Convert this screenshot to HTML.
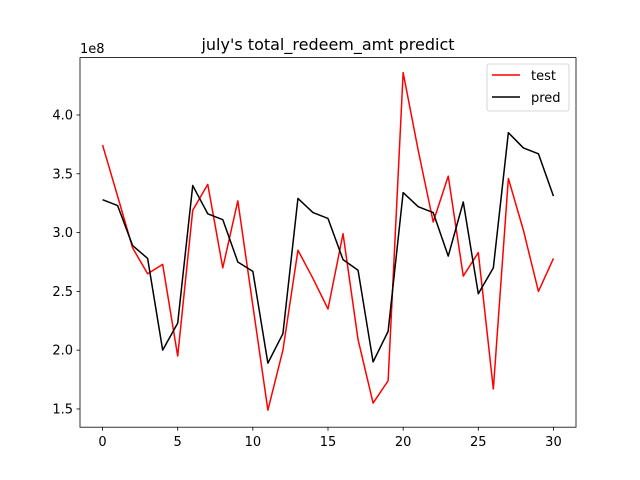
<!DOCTYPE html>
<html><head><meta charset="utf-8"><style>
html,body{margin:0;padding:0;background:#fff;}
svg{display:block;font-family:"DejaVu Sans","Liberation Sans",sans-serif;}
</style></head><body>
<svg id="chart" width="640" height="480" viewBox="0 0 640 480"></svg>
<script>
const days = [0,1,2,3,4,5,6,7,8,9,10,11,12,13,14,15,16,17,18,19,20,21,22,23,24,25,26,27,28,29,30];
const testValues = [3.745,3.31,2.87,2.65,2.73,1.95,3.19,3.41,2.70,3.27,2.38,1.49,2.0,2.85,2.61,2.35,2.99,2.09,1.55,1.74,4.36,3.70,3.09,3.48,2.63,2.83,1.67,3.46,3.02,2.50,2.78];
const predValues = [3.28,3.23,2.89,2.78,2.0,2.23,3.40,3.16,3.11,2.75,2.67,1.89,2.14,3.29,3.17,3.12,2.77,2.68,1.90,2.16,3.34,3.22,3.17,2.80,3.26,2.48,2.70,3.85,3.72,3.67,3.31];
const xTicks = [0,5,10,15,20,25,30];
const yTicks = [1.5,2.0,2.5,3.0,3.5,4.0];
const yTickLabels = ["1.5","2.0","2.5","3.0","3.5","4.0"];

const L=80,R=576,T=57.6,B=427.2;
const xMin=-1.5,xMax=31.5,yMin=1.345,yMax=4.488;
const xs=v=>L+(v-xMin)/(xMax-xMin)*(R-L);
const ys=v=>B-(v-yMin)/(yMax-yMin)*(B-T);
const svg=document.getElementById('chart');
const NS='http://www.w3.org/2000/svg';
function mk(tag,attrs,parent){const e=document.createElementNS(NS,tag);for(const k in attrs)e.setAttribute(k,attrs[k]);(parent||svg).appendChild(e);return e;}

const title=mk('text',{x:328,y:50,'text-anchor':'middle','font-size':16});
title.textContent="july's total_redeem_amt predict";



const mult=mk('text',{x:80,y:53,'font-size':13});
mult.textContent="1e8";



xTicks.forEach(t=>{
  const x=xs(t);
  mk('line',{x1:x,x2:x,y1:B,y2:B+3.5,stroke:'#000','stroke-width':0.8});
  const tx=mk('text',{x:x,y:B+19,'text-anchor':'middle','font-size':13});
  tx.textContent=t;
  
  
});
yTicks.forEach((t,i)=>{
  const y=ys(t);
  mk('line',{x1:L-3.5,x2:L,y1:y,y2:y,stroke:'#000','stroke-width':0.8});
  const tx=mk('text',{x:L-7,y:y+4.5,'text-anchor':'end','font-size':13});
  tx.textContent=yTickLabels[i];
  
  
});

function series(vals,color,name){
  const p=mk('polyline',{points:vals.map((v,i)=>xs(days[i])+','+ys(v)).join(' '),fill:'none',stroke:color,'stroke-width':1.5,'stroke-linejoin':'round'});
  
  
}
series(testValues,'#ff0000','test-line');
series(predValues,'#000000','pred-line');

const frame=mk('rect',{x:L,y:T,width:R-L,height:B-T,fill:'none',stroke:'#000','stroke-width':0.8});



const lg=mk('g',{});


mk('rect',{x:487,y:64,width:82,height:47,rx:2,fill:'#fff',stroke:'#ccc','stroke-width':0.8},lg);
mk('line',{x1:492,x2:520,y1:75,y2:75,stroke:'#ff0000','stroke-width':1.5},lg);
const l1=mk('text',{x:531,y:80,'font-size':13},lg);l1.textContent='test';


mk('line',{x1:492,x2:520,y1:97,y2:97,stroke:'#000','stroke-width':1.5},lg);
const l2=mk('text',{x:531,y:102,'font-size':13},lg);l2.textContent='pred';


</script>
</body></html>
